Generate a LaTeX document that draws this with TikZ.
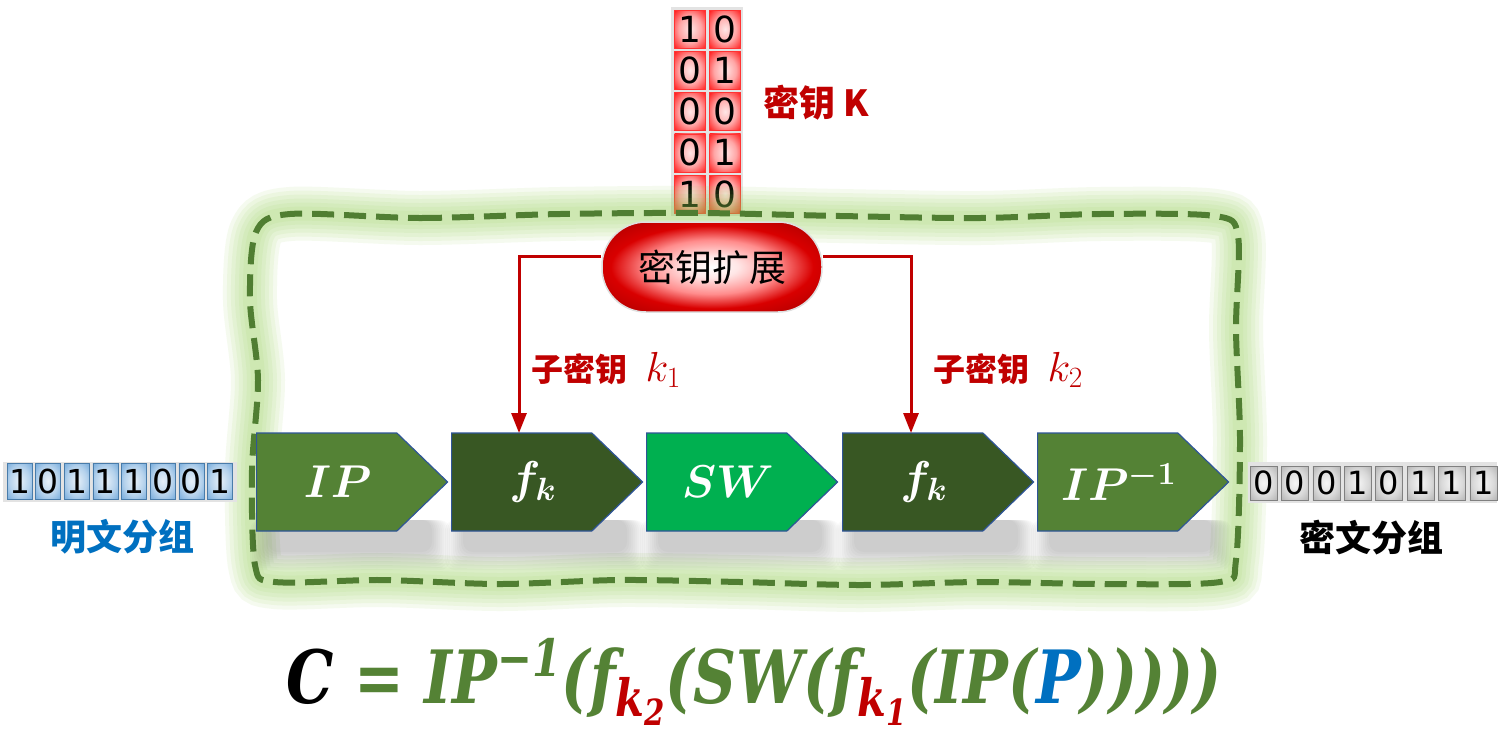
\RequirePackage{fix-cm}
\documentclass[tikz,border=0pt]{standalone}
\usepackage{fontspec}
\usepackage{graphicx}
\usetikzlibrary{shapes.symbols,arrows.meta}
\newfontfamily\cjk{Noto Sans CJK SC}
\newfontfamily\bitfont{DejaVu Sans}
\newfontfamily\formfont{DejaVu Serif}
\definecolor{keyred}{HTML}{C00000}
\definecolor{ipgreen}{HTML}{548235}
\definecolor{fkgreen}{HTML}{385723}
\definecolor{swgreen}{HTML}{00B050}
\definecolor{edgeblue}{HTML}{2F5597}
\definecolor{plainblue}{HTML}{0070C0}
\definecolor{cellblue}{HTML}{5B9BD5}
\definecolor{glowgreen}{HTML}{92D050}
\definecolor{dashgreen}{HTML}{507E32}
\definecolor{framegray}{HTML}{E3E3E3}
\pgfdeclareradialshading{pillshade}{\pgfpoint{0bp}{0bp}}{color(0bp)=(white); color(6bp)=(red!10!white); color(15bp)=(red!45!white); color(23bp)=(red!85!black); color(29bp)=(keyred); color(35bp)=(keyred!75!black); color(50bp)=(keyred!75!black)}
\pgfdeclareradialshading{redcell}{\pgfpoint{0bp}{0bp}}{color(0bp)=(red!10!white); color(18bp)=(red!35!white); color(34bp)=(red!85!white); color(50bp)=(red)}
\pgfdeclareradialshading{bluecell}{\pgfpoint{0bp}{0bp}}{color(0bp)=(cellblue!15!white); color(20bp)=(cellblue!45!white); color(36bp)=(cellblue!85!white); color(50bp)=(cellblue)}
\pgfdeclareradialshading{graycell}{\pgfpoint{0bp}{0bp}}{color(0bp)=(gray!8!white); color(20bp)=(gray!30!white); color(36bp)=(gray!60!white); color(50bp)=(gray!75!white)}

\tikzset{
  keybit/.style={rectangle,minimum width=31pt,minimum height=38pt,inner sep=0pt,shading=redcell,draw=red!80!white,line width=0.6pt,font=\bitfont\fontsize{36}{36}\selectfont},
  plainbit/.style={rectangle,minimum width=25pt,minimum height=36pt,inner sep=0pt,shading=bluecell,draw=cellblue!80!black,line width=0.6pt,font=\bitfont\fontsize{33}{33}\selectfont},
  cipherbit/.style={rectangle,minimum width=27pt,minimum height=34pt,inner sep=0pt,shading=graycell,draw=gray,line width=0.6pt,font=\bitfont\fontsize{32}{32}\selectfont},
  bitframe/.style={fill=framegray},
  glow/.style={draw=glowgreen,opacity=0.09},
  borderdash/.style={draw=dashgreen,dash pattern=on 22pt off 10pt},
  blkshadow/.style={fill=black,opacity=0.02,rounded corners=10pt},
  kexp/.style={rectangle,rounded corners=44pt,minimum width=220pt,minimum height=90pt,inner sep=0pt,shading=pillshade,draw=gray!25,line width=1.5pt,font=\cjk\fontsize{37}{40}\selectfont},
  blk/.style={signal,signal to=east,signal pointer angle=88,minimum width=191pt,minimum height=98pt,inner sep=0pt,draw=edgeblue,line width=1.2pt,text=white,anchor=west,font=\fontsize{46}{50}\selectfont\boldmath,execute at begin node=\hspace*{22pt}},
  subarrow/.style={draw=keyred,line width=3pt,-{Triangle[length=20pt,width=15pt]}},
  sublabel/.style={anchor=west,text=keyred,font=\cjk\bfseries\fontsize{32}{34}\selectfont},
  grouplabel/.style={font=\cjk\bfseries\fontsize{36}{38}\selectfont},
  formula/.style={text=ipgreen,font=\formfont\bfseries\itshape\fontsize{70}{76}\selectfont}
}
\newcommand\subk[1]{{\fontsize{42}{42}\selectfont$k_#1$}}

\begin{document}
\begin{tikzpicture}[x=1pt,y=-1pt]
  \path[use as bounding box,fill=white] (0,0) rectangle (1504,745);

  % key K
  \fill[bitframe] (671,7) rectangle (743,216);
  \foreach \r/\a/\b in {1/1/0,2/0/1,3/0/0,4/0/1,5/1/0} {
    \node[keybit] (ka\r) at ({690},{41.2*\r-12}) {\a};
    \node[keybit] (kb\r) at ({725},{41.2*\r-12}) {\b};
  }
  \node[grouplabel,text=keyred] (klabel) at (816,103) {密钥 K};

  % wavy border with glow
  \foreach \w/\st in {54/glow,46/glow,38/glow,30/glow,22/glow,14/glow,6/borderdash}
    \draw[\st,line width=\w pt] plot[smooth cycle] coordinates {(290,214) (420,218) (560,214) (700,213) (840,216) (980,218) (1100,214) (1215,216) (1238,236) (1236,330) (1240,440) (1236,560) (1220,582) (1100,584) (980,582) (860,585) (740,582) (620,580) (500,584) (380,580) (275,582) (255,565) (252,470) (258,380) (250,300) (256,232)};

  \node[kexp] (kexp) at (712,267) {密钥扩展};

  % shadows under the rounds
  \foreach \x in {256,451,646,842,1037}
    \foreach \s in {0,2,...,18}
      \fill[blkshadow] ({\x-6+\s},520) rectangle ({\x+194-\s},{570-\s});

  % rounds
  \node[blk,fill=ipgreen] (ip) at (256,482) {$IP$};
  \node[blk,fill=fkgreen] (fk1) at (451,482) {$f_k$};
  \node[blk,fill=swgreen] (sw) at (646,482) {$SW$};
  \node[blk,fill=fkgreen] (fk2) at (842,482) {$f_k$};
  \node[blk,fill=ipgreen] (ipinv) at (1037,482) {$IP^{-1}$};

  \draw[subarrow] ([yshift=11pt]kexp.west) -| ([shift={(68pt,49pt)}]fk1.west);
  \draw[subarrow] ([yshift=11pt]kexp.east) -| ([shift={(69pt,49pt)}]fk2.west);
  \node[sublabel] (sub1) at (528,370) {子密钥\hspace{18pt}\subk1};
  \node[sublabel] (sub2) at (930,370) {子密钥\hspace{18pt}\subk2};

  % plaintext and ciphertext
  \fill[bitframe] (3,462) rectangle (237,502);
  \foreach \b [count=\i] in {1,0,1,1,1,0,0,1}
    \node[plainbit] (p\i) at ({19.5+28.65*(\i-1)},481) {\b};
  \node[grouplabel,text=plainblue] (plabel) at (122,537) {明文分组};

  \fill[bitframe] (1248,462) rectangle (1497,503);
  \foreach \b [count=\i] in {0,0,0,1,0,1,1,1}
    \node[cipherbit] (c\i) at ({1263.5+31.4*(\i-1)},483) {\b};
  \node[grouplabel] (clabel) at (1371,538) {密文分组};

  \node[formula] (form) at (754,682) {\scalebox{0.85}[1.05]{\textcolor{black}{C} = IP\textsuperscript{−1}(f\textsubscript{\textcolor{keyred}{k\textsubscript{2}}}(SW(f\textsubscript{\textcolor{keyred}{k\textsubscript{1}}}(IP(\textcolor{plainblue}{P})))))}};
\end{tikzpicture}
\end{document}
